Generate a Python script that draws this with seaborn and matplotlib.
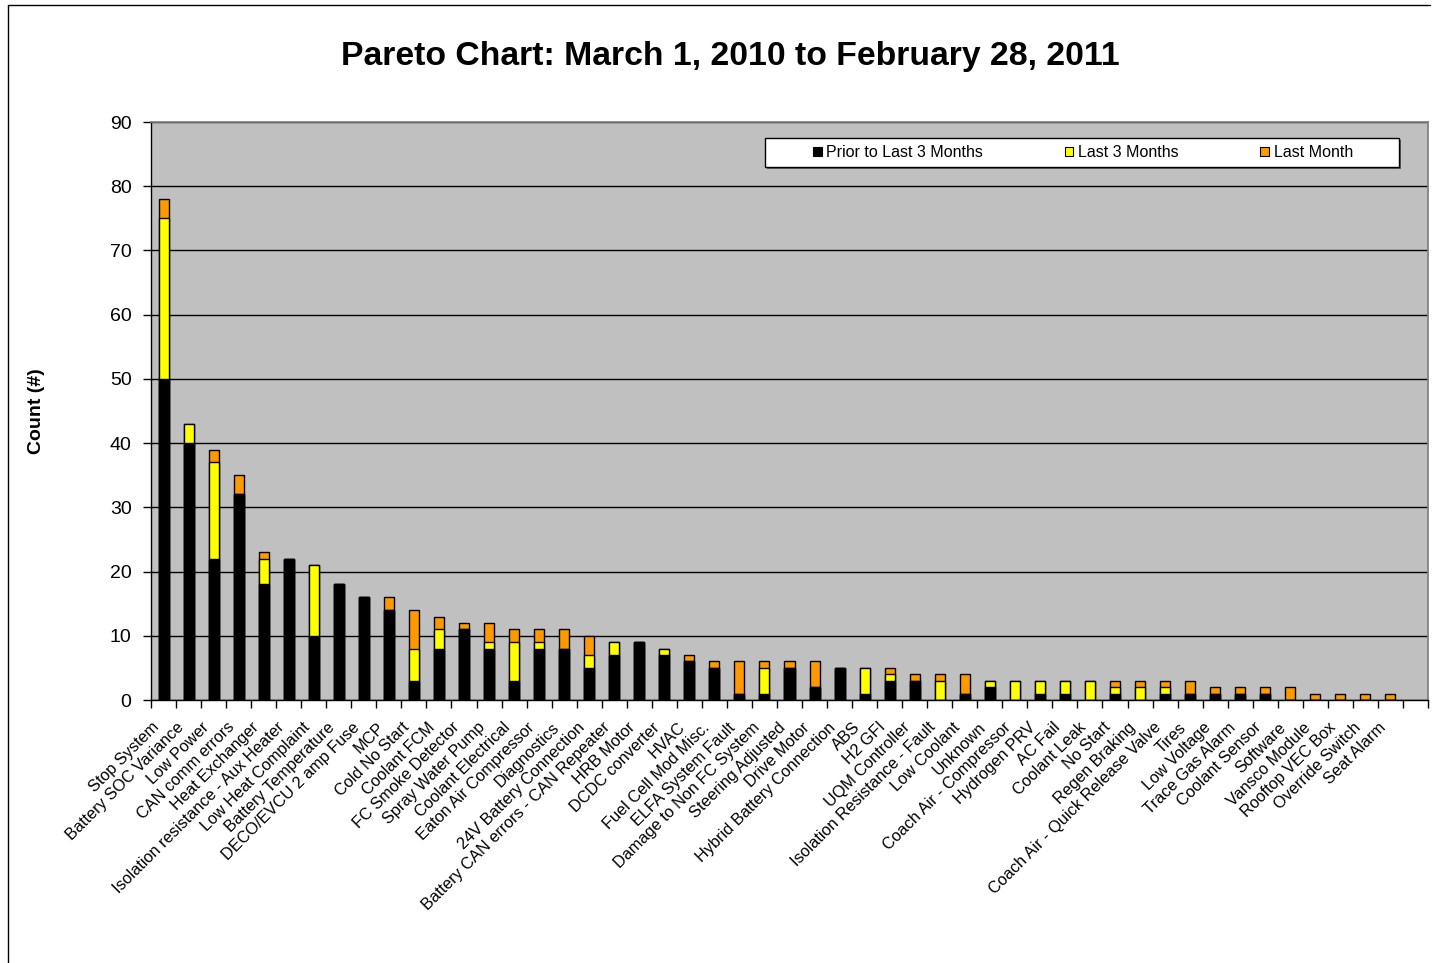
import matplotlib
matplotlib.use("Agg")
import matplotlib.pyplot as plt
from matplotlib.lines import Line2D
from matplotlib.patches import Patch, Rectangle
import numpy as np
import pandas as pd
import seaborn as sns

# failure categories, sorted by total count (Pareto order)
categories = [
    "Stop System", "Battery SOC Variance", "Low Power", "CAN comm errors",
    "Heat Exchanger", "Isolation resistance - Aux Heater", "Low Heat Complaint",
    "Battery Temperature", "DECO/EVCU 2 amp Fuse", "MCP", "Cold No Start",
    "Coolant FCM", "FC Smoke Detector", "Spray Water Pump", "Coolant Electrical",
    "Eaton Air Compressor", "Diagnostics", "24V Battery Connection",
    "Battery CAN errors - CAN Repeater", "HRB Motor", "DCDC converter", "HVAC",
    "Fuel Cell Mod Misc.", "ELFA System Fault", "Damage to Non FC System",
    "Steering Adjusted", "Drive Motor", "Hybrid Battery Connection", "ABS",
    "H2 GFI", "UQM Controller", "Isolation Resistance - Fault", "Low Coolant",
    "Unknown", "Coach Air - Compressor", "Hydrogen PRV", "AC Fail",
    "Coolant Leak", "No Start", "Regen Braking",
    "Coach Air - Quick Release Valve", "Tires", "Low Voltage",
    "Trace Gas Alarm", "Coolant Sensor", "Software", "Vansco Module",
    "Rooftop VEC Box", "Override Switch", "Seat Alarm",
]
prior_to_last3 = [
    50, 40, 22, 32, 18, 22, 10, 18, 16, 14, 3, 8, 11, 8, 3, 8, 8, 5, 7, 9,
    7, 6, 5, 1, 1, 5, 2, 5, 1, 3, 3, 0, 1, 2, 0, 1, 1, 0, 1, 0,
    1, 1, 1, 1, 1, 0, 0, 0, 0, 0,
]
last_3_months = [
    25, 3, 15, 0, 4, 0, 11, 0, 0, 0, 5, 3, 0, 1, 6, 1, 0, 2, 2, 0,
    1, 0, 0, 0, 4, 0, 0, 0, 4, 1, 0, 3, 0, 1, 3, 2, 2, 3, 1, 2,
    1, 0, 0, 0, 0, 0, 0, 0, 0, 0,
]
last_month = [
    3, 0, 2, 3, 1, 0, 0, 0, 0, 2, 6, 2, 1, 3, 2, 2, 3, 3, 0, 0,
    0, 1, 1, 5, 1, 1, 4, 0, 0, 1, 1, 1, 3, 0, 0, 0, 0, 0, 1, 1,
    1, 2, 1, 1, 1, 2, 1, 1, 1, 1,
]

df = pd.DataFrame({
    "category": categories,
    "prior": prior_to_last3,
    "last3": last_3_months,
    "last1": last_month,
})
# cumulative heights so the overlapping bars look stacked
df["upto3"] = df["prior"] + df["last3"]
df["total"] = df["upto3"] + df["last1"]

sns.set_theme(style="white")
plt.rcParams["font.family"] = ["Liberation Sans", "DejaVu Sans"]
plt.rcParams.update({
    "text.color": "black",
    "axes.labelcolor": "black",
    "xtick.color": "black",
    "ytick.color": "black",
})

W, H = 1435, 963
fig = plt.figure(figsize=(W / 100, H / 100), dpi=100)
fig.patch.set_facecolor("white")
ax = fig.add_axes([151 / W, 1 - 700 / H, 1277 / W, 578 / H])
ax.set_facecolor("#C0C0C0")

bar_kw = dict(x="category", order=categories, width=0.4, saturation=1,
              edgecolor="black", linewidth=1, errorbar=None, ax=ax)
sns.barplot(data=df, y="total", color="#FF9900", **bar_kw)
sns.barplot(data=df, y="upto3", color="#FFFF00", **bar_kw)
sns.barplot(data=df, y="prior", color="black", **bar_kw)

# axes
n = len(categories)
ax.set_xlim(-0.5, n + 0.5)
ax.set_ylim(0, 90)
ax.set_yticks(range(0, 91, 10))
# labels sit a little left of the bar centre, like Excel does
ax.set_xticks(np.arange(n) - 0.27)
ax.set_xticklabels(categories, rotation=45, ha="right", va="center",
                   rotation_mode="anchor", fontsize=11.7)
ax.set_xticks(np.arange(-0.5, n + 1), minor=True)
ax.tick_params(axis="x", which="major", length=0, pad=18)
ax.tick_params(axis="x", which="minor", length=6, width=1, color="black",
               direction="out", bottom=True)
ax.tick_params(axis="y", labelsize=14, length=6, width=1, color="black",
               direction="out", left=True, pad=8)
ax.yaxis.grid(True, color="black", linewidth=1)
ax.set_axisbelow(True)
for side in ("top", "right"):
    ax.spines[side].set_color("#808080")
for side in ("left", "bottom"):
    ax.spines[side].set_color("black")
    ax.spines[side].set_linewidth(1)

ax.set_xlabel("")
ax.set_ylabel("Count (#)", fontsize=14, fontweight="bold")
ax.yaxis.set_label_coords((45 - 151) / 1277, 0.5)

fig.suptitle("Pareto Chart: March 1, 2010 to February 28, 2011",
             x=730 / W, y=1 - 57 / H, ha="center", va="center",
             fontsize=24.3, fontweight="bold")

# legend box with a small shadow
bx, by, bw, bh = (765 - 151) / 1277, (700 - 167) / 578, 634 / 1277, 29 / 578
ax.add_patch(Rectangle((bx + 2 / 1277, by - 2 / 578), bw, bh, transform=ax.transAxes,
                       facecolor="#606060", edgecolor="none", zorder=4))
ax.add_patch(Rectangle((bx, by), bw, bh, transform=ax.transAxes,
                       facecolor="white", edgecolor="black", linewidth=1, zorder=4))
handles = [Patch(facecolor=c, edgecolor="black", linewidth=0.8)
           for c in ("black", "#FFFF00", "#FF9900")]
leg = ax.legend(handles, ["Prior to Last 3 Months", "Last 3 Months", "Last Month"],
                loc="center", bbox_to_anchor=(bx + bw / 2 + 1 / 1277, by + bh / 2), ncol=3,
                frameon=False, fontsize=11.5, handlelength=0.55, handleheight=0.55,
                handletextpad=0.3, columnspacing=5.1)
leg.set_zorder(5)

# chart border (cropped on right and bottom)
fig.add_artist(Line2D([8 / W, 8 / W], [0, 1 - 5 / H], color="black", lw=1,
                      transform=fig.transFigure))
fig.add_artist(Line2D([8 / W, 1430 / W], [1 - 5 / H, 1 - 5 / H], color="black", lw=1,
                      transform=fig.transFigure))

fig.savefig("out.png", dpi=100)
